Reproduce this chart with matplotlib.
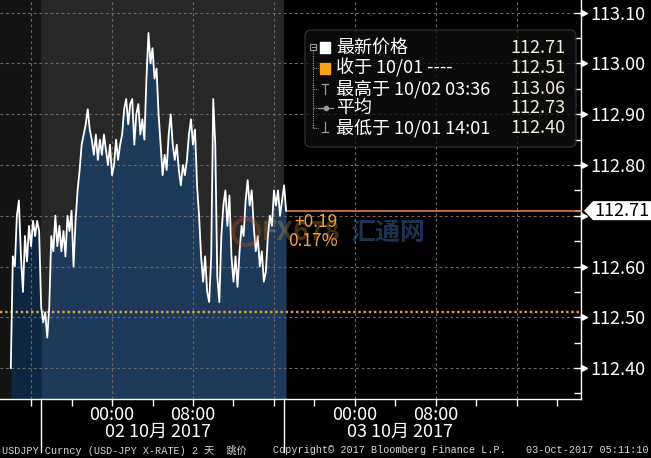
import numpy as np
import pandas as pd
import matplotlib
matplotlib.use("Agg")
import matplotlib.pyplot as plt
import matplotlib.dates as mdates
import matplotlib.transforms as mtransforms
from matplotlib.ticker import MultipleLocator, FixedLocator
from matplotlib.patches import FancyBboxPatch, Rectangle, Circle, Polygon

plt.rcParams['font.family'] = ['Noto Sans CJK SC', 'DejaVu Sans']

# USDJPY ticks, 12-minute samples (New York time)
times = pd.date_range("2017-10-01 14:00", periods=137, freq="12min")
prices = np.array([
    112.40, 112.62, 112.60, 112.70, 112.73, 112.62, 112.55, 112.66, 112.61, 112.68,
    112.64, 112.69, 112.66, 112.69, 112.67, 112.52, 112.49, 112.51, 112.46, 112.52,
    112.66, 112.63, 112.70, 112.64, 112.68, 112.63, 112.67, 112.62, 112.70, 112.67,
    112.71, 112.60, 112.69, 112.75, 112.79, 112.84, 112.86, 112.88, 112.91, 112.87,
    112.85, 112.82, 112.86, 112.81, 112.85, 112.82, 112.86, 112.83, 112.80, 112.84,
    112.78, 112.80, 112.85, 112.81, 112.84, 112.86, 112.91, 112.93, 112.88, 112.92,
    112.93, 112.84, 112.90, 112.92, 112.86, 112.89, 112.85, 112.97, 113.06, 113.00,
    113.03, 112.97, 112.99, 112.90, 112.84, 112.78, 112.82, 112.79, 112.86, 112.90,
    112.84, 112.81, 112.84, 112.79, 112.76, 112.80, 112.78, 112.81, 112.86, 112.89,
    112.84, 112.87, 112.76, 112.70, 112.62, 112.57, 112.62, 112.55, 112.53, 112.62,
    112.93, 112.84, 112.58, 112.53, 112.66, 112.72, 112.75, 112.68, 112.74, 112.62,
    112.57, 112.62, 112.56, 112.63, 112.68, 112.66, 112.73, 112.77, 112.72, 112.75,
    112.68, 112.63, 112.66, 112.60, 112.63, 112.57, 112.59, 112.66, 112.70, 112.68,
    112.75, 112.72, 112.75, 112.70, 112.73, 112.76, 112.71,
])

last_price = 112.71
prev_close = 112.51
change_abs = "+0.19"
change_pct = "0.17%"

legend_labels = ["最新价格", "收于 10/01 ----", "最高于 10/02 03:36", "平均", "最低于 10/01 14:01"]
legend_values = ["112.71", "112.51", "113.06", "112.73", "112.40"]

y_ticks = [112.40, 112.50, 112.60, 112.70, 112.80, 112.90, 113.00, 113.10]
x_major = pd.to_datetime(["2017-10-02 00:00", "2017-10-02 08:00",
                          "2017-10-03 00:00", "2017-10-03 08:00"])
x_grid = pd.date_range("2017-10-01 16:00", "2017-10-03 16:00", freq="8h")
day_labels = ["02 10月 2017", "03 10月 2017"]
day_label_pos = pd.to_datetime(["2017-10-02 04:30", "2017-10-03 04:30"])
session_start = pd.Timestamp("2017-10-01 17:00")
session_end = pd.Timestamp("2017-10-02 17:00")

footer_left = "USDJPY Curncy (USD-JPY X-RATE) 2 天  跳价"
footer_mid = "Copyright© 2017 Bloomberg Finance L.P."
footer_right = "03-Oct-2017 05:11:10"

x_lo = pd.Timestamp("2017-10-01 12:56")
x_hi = pd.Timestamp("2017-10-03 22:20")
y_lo, y_hi = 112.339, 113.125

fig = plt.figure(figsize=(6.51, 4.58), dpi=100, facecolor="black")
ax = fig.add_axes([0, 59 / 458, 581 / 651, 399 / 458])
ax.set_facecolor("black")
ax.set_xlim(x_lo, x_hi)
ax.set_ylim(y_lo, y_hi)

# session shading
ax.axvspan(x_lo, session_start, color="#141414", lw=0, zorder=0.1)
ax.axvspan(session_start, session_end, color="#272727", lw=0, zorder=0.1)

pre = np.asarray(times <= session_start)
post = np.asarray(times >= session_start)
ax.fill_between(times, prices, y_lo, where=pre, color="#0d2742", lw=0, zorder=0.5)
ax.fill_between(times, prices, y_lo, where=post, color="#1e3a5b", lw=0, zorder=0.5)

# grid
for v in y_ticks:
    ax.axhline(v, color="#6a6a6a", lw=0.8, ls=(0, (2.5, 2.5)), zorder=1)
for g in x_grid:
    ax.axvline(g, color="#6a6a6a", lw=0.8, ls=(0, (2.5, 2.5)), zorder=1)

ax.plot(times, prices, color="white", lw=1.3, zorder=3)

# previous close and last price lines
ax.axhline(prev_close, color="#f2a03a", lw=1.7, ls=(0, (1, 1.2)), zorder=2.5)
ax.hlines(last_price, times[-1], x_hi, color="#f08a46", lw=1.1, zorder=2.5)

# axes styling
for s in ["left", "top"]:
    ax.spines[s].set_visible(False)
for s in ["right", "bottom"]:
    ax.spines[s].set_color("white")
    ax.spines[s].set_linewidth(1)

ax.yaxis.tick_right()
ax.set_yticks(y_ticks)
# the last-price tag takes the place of the 112.70 label
ax.set_yticklabels(["" if abs(v - last_price) < 0.03 else f"{v:.2f}" for v in y_ticks])
ax.yaxis.set_minor_locator(MultipleLocator(0.05))
ax.tick_params(axis="y", which="both", direction="in", length=5, width=1,
               color="white", labelcolor="white", labelsize=13, pad=7)

ax.xaxis.set_major_locator(FixedLocator(mdates.date2num(x_major)))
ax.xaxis.set_major_formatter(mdates.DateFormatter("%H:%M"))
ax.xaxis.set_minor_locator(mdates.HourLocator(byhour=[0, 4, 8, 12, 16, 20]))
ax.tick_params(axis="x", which="both", direction="out", length=5, width=1,
               color="white", labelcolor="white", labelsize=13, pad=0)

ytr = mtransforms.blended_transform_factory(ax.transAxes, ax.transData)
xtr = mtransforms.blended_transform_factory(ax.transData, ax.transAxes)

ax.plot([1.006] * len(y_ticks), y_ticks, ls="none", marker=">", ms=5,
        color="white", transform=ytr, clip_on=False)

# day separators and date labels
for d in [session_start, session_end]:
    ax.plot([d, d], [0, -53 / 399], color="white", lw=1, transform=xtr, clip_on=False)
for d, lab in zip(day_label_pos, day_labels):
    ax.text(d, -33 / 399, lab, transform=xtr, ha="center", va="center",
            color="white", fontsize=13)

# overlay in pixel coordinates for legend, tag, watermark and footer
ov = fig.add_axes([0, 0, 1, 1])
ov.set_xlim(0, 651)
ov.set_ylim(458, 0)
ov.axis("off")
ov.patch.set_visible(False)

# last price tag on the right axis
tag_y = 458 - ax.transData.transform((0, last_price))[1] * 100 / fig.dpi
ov.add_patch(Polygon([(584, tag_y), (593, tag_y - 9.5), (651, tag_y - 9.5),
                      (651, tag_y + 9.5), (593, tag_y + 9.5)],
                     closed=True, fc="white", ec="none"))
ov.text(594, tag_y, f"{last_price:.2f}", color="black", fontsize=13,
        ha="left", va="center")
ov.plot([576, 581], [tag_y, tag_y], color="#f08a46", lw=1.2)

# faint watermark
ov.add_patch(Circle((246, 232), 13, fill=False, ec="#c8562c", lw=3, alpha=0.3))
ov.text(262, 233, "FX678", color="#e0a040", alpha=0.3, fontsize=19,
        fontweight="bold", va="center", ha="left")
ov.text(350, 233, "汇通网", color="#3f72b5", alpha=0.45, fontsize=18,
        fontweight="bold", va="center", ha="left")

ov.text(338, 222, change_abs, color="#f0a040", fontsize=12.5, ha="right", va="center")
ov.text(338, 241, change_pct, color="#f0a040", fontsize=12.5, ha="right", va="center")

# legend box
ov.add_patch(FancyBboxPatch((305, 30), 271, 117, boxstyle="round,pad=0,rounding_size=6",
                            fc="#0e0e0e", ec="#3a3a3a", lw=1, alpha=0.75))
rows = [48, 68, 89, 108, 128]
tree = "#9a9a9a"
ov.add_patch(Rectangle((310, 44), 6, 6, fill=False, ec=tree, lw=0.8))
ov.plot([311.5, 314.5], [47, 47], color=tree, lw=0.8)
ov.plot([313, 313], [51, 128], color=tree, lw=0.8, ls=(0, (1, 1)))
for ry in rows[1:]:
    ov.plot([313, 318], [ry, ry], color=tree, lw=0.8, ls=(0, (1, 1)))
ov.add_patch(Rectangle((320, 42), 10, 11, color="white"))
ov.add_patch(Rectangle((320, 63), 10, 11, color="#f7a11a"))
ov.plot([322, 328], [84, 84], color=tree, lw=0.9)
ov.plot([325, 325], [84, 94], color=tree, lw=0.9)
ov.plot([318, 333], [108, 108], color=tree, lw=0.9)
ov.plot([325.5], [108], marker="o", ms=3, color=tree)
ov.plot([325, 325], [122, 132], color=tree, lw=0.9)
ov.plot([322, 328], [132, 132], color=tree, lw=0.9)

for ry, lab, val in zip(rows, legend_labels, legend_values):
    ov.text(336, ry, lab, color="white", fontsize=13, ha="left", va="center")
    ov.text(566, ry, val, color="#f2ecdc", fontsize=13, ha="right", va="center")

# footer
foot_font = dict(family=["Liberation Mono", "Noto Sans CJK SC"], fontsize=7.3,
                 color="#d8d8d8", va="center")
ov.text(2, 450, footer_left, ha="left", **foot_font)
ov.text(273, 450, footer_mid, ha="left", **foot_font)
ov.text(648, 450, footer_right, ha="right", **foot_font)

fig.savefig("out.png", dpi=100, facecolor="black")
